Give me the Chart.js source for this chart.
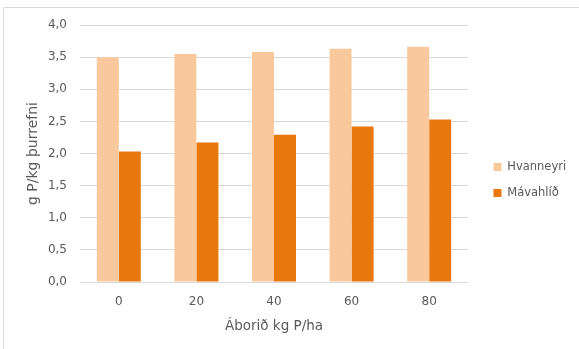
<!DOCTYPE html>
<html>
<head>
<meta charset="utf-8">
<script src="https://cdn.jsdelivr.net/npm/chart.js@4/dist/chart.umd.min.js"></script>
<style>
  html, body { margin: 0; padding: 0; background: #fff; }
  #wrap { width: 579px; height: 349px; position: relative; }
</style>
</head>
<body>
<div id="wrap"><canvas id="c"></canvas></div>
<script>
// Phosphorus content by fertiliser rate, two sites
const categories = ['0', '20', '40', '60', '80'];
const hvanneyri = [3.50, 3.55, 3.58, 3.63, 3.66];
const mavahlid = [2.03, 2.17, 2.29, 2.42, 2.53];
const seriesNames = ['Hvanneyri', 'Mávahlíð'];
const yMin = 0, yMax = 4, yStep = 0.5;
const xTitle = 'Áborið kg P/ha';
const yTitle = 'g P/kg þurrefni';

const textColor = '#595959';
const gridColor = '#d9d9d9';
const fontFamily = '"DejaVu Sans", sans-serif';

// light frame around the chart object (top and left edges)
const frame = {
  id: 'frame',
  beforeDraw(chart) {
    const ctx = chart.ctx;
    ctx.save();
    ctx.fillStyle = '#fff';
    ctx.fillRect(0, 0, chart.width, chart.height);
    ctx.strokeStyle = gridColor;
    ctx.lineWidth = 1;
    ctx.beginPath();
    ctx.moveTo(3.5, chart.height);
    ctx.lineTo(3.5, 7.5);
    ctx.lineTo(chart.width, 7.5);
    ctx.stroke();
    ctx.restore();
  }
};

// fixed-width legend column, with a gap before the entries
const legendWidth = 111;
const legendGap = 11;
const legendSpacing = {
  id: 'legendSpacing',
  beforeLayout(chart) {
    const lg = chart.legend;
    if (lg && !lg._widthWrapped) {
      const fit = lg.fit;
      lg.fit = function () { fit.call(this); this.width = legendWidth; };
      lg._widthWrapped = true;
    }
  },
  afterLayout(chart) {
    if (chart.legend) chart.legend.left += legendGap;
  }
};

new Chart(document.getElementById('c'), {
  type: 'bar',
  data: {
    labels: categories,
    datasets: [
      { label: seriesNames[0], data: hvanneyri, backgroundColor: '#f9c89c' },
      { label: seriesNames[1], data: mavahlid, backgroundColor: '#e8770e' }
    ]
  },
  options: {
    responsive: true,
    maintainAspectRatio: false,
    animation: false,
    layout: { padding: { left: 20, right: 0, top: 25, bottom: 14 } },
    datasets: { bar: { categoryPercentage: 0.567, barPercentage: 1.0, borderWidth: 0 } },
    plugins: {
      tooltip: { enabled: false },
      legend: {
        position: 'right',
        align: 'center',
        labels: {
          boxWidth: 8, boxHeight: 8, padding: 14.5,
          color: textColor,
          font: { family: fontFamily, size: 11.5 }
        }
      }
    },
    scales: {
      x: {
        afterFit(scale) { scale.height = 53; },
        grid: { display: false, drawTicks: false },
        border: { display: true, color: gridColor, width: 1 },
        ticks: { color: textColor, padding: 12.5, font: { family: fontFamily, size: 12 } },
        title: {
          display: true, text: xTitle, color: textColor,
          font: { family: fontFamily, size: 13.5 },
          padding: { top: 0, bottom: 0 }
        }
      },
      y: {
        min: yMin, max: yMax,
        afterFit(scale) { scale.width = 60; },
        grid: { color: gridColor, lineWidth: 1, drawTicks: false },
        border: { display: false },
        ticks: {
          stepSize: yStep, padding: 13, color: textColor,
          font: { family: fontFamily, size: 12 },
          callback: v => v.toFixed(1).replace('.', ',')
        },
        title: {
          display: true, text: yTitle, color: textColor,
          font: { family: fontFamily, size: 14 },
          padding: { top: 5, bottom: 0 }
        }
      }
    }
  },
  plugins: [frame, legendSpacing]
});
</script>
</body>
</html>
